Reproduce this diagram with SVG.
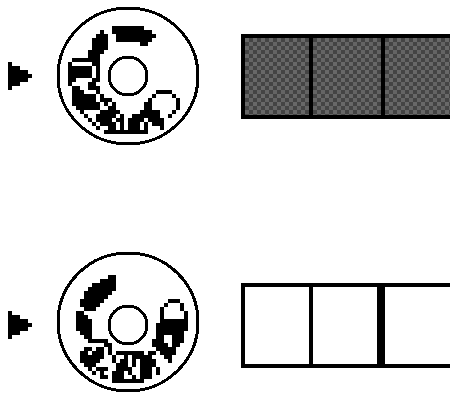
<svg xmlns="http://www.w3.org/2000/svg" width="450" height="394" viewBox="0 0 450 394">
<style>
.k{fill:#000}
.l{fill:none;stroke:#000;stroke-width:4}
.r{fill:none;stroke:#000;stroke-width:3}
svg *{shape-rendering:crispEdges}
</style>
<defs>
<pattern id="chk" width="8" height="8" patternUnits="userSpaceOnUse" x="245" y="38">
<rect width="8" height="8" fill="#444"/>
<rect width="4" height="4" fill="#686868"/>
<rect x="4" y="4" width="4" height="4" fill="#646464"/>
</pattern>
</defs>
<rect width="450" height="394" fill="#fff"/>
<g id="pointer-top"><path class="k" d="M8,62h4v28h-4zM12,66h4v20h-4zM16,66h4v20h-4zM20,70h4v12h-4zM24,70h4v12h-4zM28,74h4v4h-4z"/></g>
<g id="dial-top">
<ellipse class="r" cx="128" cy="76" rx="70" ry="68"/>
<circle class="r" cx="128" cy="76" r="19"/>
<path class="k" d="M112,26H144v4H112zM112,30H152v4H112zM116,34H156v4H116zM116,38H152v4H116zM140,42H148v4H140z
M100,30H104v4H100zM96,34H108v4H96zM92,38H108v12H92zM88,50H104v4H88zM88,54H100v4H88z
M72,58H100v4H72zM68,62H72v4H68zM92,62H100v4H92zM68,66H92v12H68zM96,66H100v12H96zM68,78H76v4H68zM92,78H100v4H92zM68,82H72v4H68zM88,82H96v4H88z
M72,86H80v4H72zM88,86H100v4H88zM72,90H84v4H72zM96,90H100v4H96zM72,94H96v8H72zM100,94H104v4H100zM100,98H112v4H100zM72,102H100v4H72zM104,102H108v4H104zM112,102H116v4H112zM76,106H100v4H76zM108,106H116v4H108z
M80,110H84v4H80zM100,110H120v4H100zM140,110H160v4H140zM84,114H88v4H84zM96,114H116v4H96zM120,114H124v4H120zM132,114H160v4H132zM88,118H92v4H88zM96,118H112v4H96zM116,118H124v4H116zM128,118H144v4H128zM148,118H164v4H148z
M92,122H96v4H92zM100,122H116v4H100zM120,122H124v4H120zM128,122H140v4H128zM144,122H148v4H144zM152,122H164v4H152zM96,126H100v4H96zM108,126H116v4H108zM120,126H124v4H120zM128,126H140v4H128zM144,126H148v4H144zM160,126H164v4H160zM104,130H148v4H104z
M156,90H172v4H156zM152,94H156v4H152zM172,94H176v4H172zM148,98H152v4H148zM176,98H180v12H176zM144,102H152v8H144zM172,110H176v4H172zM168,114H172v4H168z"/>
</g>
<g id="panel-top">
<rect x="243" y="36" width="209" height="81" style="fill:url(#chk);stroke:#000;stroke-width:4"/>
<path class="l" d="M311,36V117M383,36V117"/>
</g>
<g id="pointer-bottom"><path class="k" d="M8,311h4v28h-4zM12,315h4v20h-4zM16,315h4v20h-4zM20,319h4v12h-4zM24,319h4v12h-4zM28,323h4v4h-4z"/></g>
<g id="dial-bottom">
<ellipse class="r" cx="128" cy="322" rx="70" ry="69"/>
<circle class="r" cx="128" cy="325" r="19"/>
<path class="k" d="M108,275H116v4H108zM100,279H116v4H100zM92,283H116v4H92zM88,287H116v4H88zM84,291H112v4H84zM84,295H108v4H84zM80,299H104v4H80zM80,303H100v4H80zM84,307H96v4H84z
M76,311H84v4H76zM76,315H88v4H76zM76,319H92v12H76zM80,331H92v4H80zM84,335H92v4H84zM88,339H108v4H88zM104,343H112v4H104zM108,347H112v4H108z
M84,347H92v4H84zM96,347H104v4H96zM80,351H88v4H80zM92,351H104v4H92zM80,355H104v4H80zM80,359H100v4H80zM84,363H96v4H84zM88,367H92v4H88zM96,367H108v4H96zM92,371H96v4H92zM100,371H104v4H100zM100,375H108v4H100z
M108,351H112v4H108zM116,351H144v4H116zM148,351H156v4H148zM112,355H116v4H112zM124,355H128v4H124zM132,355H152v4H132zM112,359H116v4H112zM120,359H128v4H120zM132,359H136v4H132zM140,359H156v4H140zM116,363H128v4H116zM132,363H136v4H132zM140,363H156v4H140zM116,367H132v4H116zM140,367H152v4H140zM156,367H160v4H156zM112,371H124v4H112zM128,371H132v4H128zM140,371H152v4H140zM156,371H160v4H156zM112,375H124v4H112zM132,375H136v4H132zM140,375H152v4H140zM112,379H144v4H112z
M168,299H180v4H168zM164,303H168v4H164zM180,303H184v4H180zM160,307H164v8H160zM180,307H184v4H180zM184,311H188v8H184zM160,315H164v4H160z
M160,319H188v4H160zM156,323H188v8H156zM156,331H184v4H156zM156,335H164v4H156zM172,335H184v4H172zM152,339H164v4H152zM172,339H184v4H172zM152,343H168v4H152zM172,343H180v4H172zM156,347H176v4H156zM160,351H176v4H160zM164,355H172v4H164zM168,359H172v4H168z"/>
</g>
<g id="panel-bottom">
<rect x="243" y="285" width="209" height="81" style="fill:#fff;stroke:#000;stroke-width:4"/>
<path class="l" d="M311,285V366"/>
<rect class="k" x="377" y="285" width="8" height="81"/>
</g>
</svg>
